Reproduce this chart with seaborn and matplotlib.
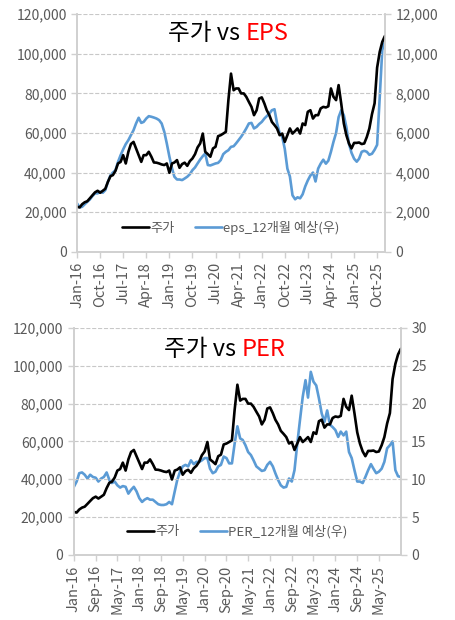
import matplotlib
matplotlib.use('Agg')

import seaborn as sns
import matplotlib.pyplot as plt
import matplotlib.dates as mdates
from matplotlib.ticker import FuncFormatter, MultipleLocator, FixedLocator
import pandas as pd

# 월별 데이터 (2016-01 ~ 2026-01)
dates = pd.date_range('2016-01-01', periods=121, freq='MS')

price = [
    22700, 22400, 24000, 25000, 25500, 27000, 28500, 30000, 30800, 29800, 30800, 31800,
    35300, 38200, 38700, 40900, 44600, 45400, 48800, 44600, 50500, 54400, 55500, 52200,
    48800, 45400, 48800, 48800, 50500, 48000, 45100, 45000, 44600, 44100, 43800, 44600,
    39900, 44600, 45100, 46300, 42400, 44300, 45000, 43400, 45800, 47100, 49300, 52700,
    54700, 59700, 50500, 49300, 48000, 52200, 53000, 58400, 58900, 59700, 60600, 76600,
    90000, 81600, 82500, 82500, 80000, 80000, 78300, 75700, 73200, 69000, 71500, 77400,
    78000, 74900, 71500, 69000, 65600, 64000, 62300, 58900, 59700, 55500, 58900, 62300,
    59700, 61000, 62300, 59700, 64800, 64000, 70700, 71500, 67300, 69000, 69000, 72400,
    73200, 72900, 73500, 82500, 78300, 76600, 84200, 74900, 64800, 58900, 54700, 52200,
    55000, 55000, 55200, 54400, 54700, 58000, 62300, 69500, 75000, 93000, 101000, 106000,
    109000,
]

eps = [
    2440, 2240, 2270, 2400, 2520, 2640, 2810, 2950, 2950, 3030, 2980, 3110,
    3530, 3870, 4000, 4120, 4540, 4880, 5170, 5440, 5640, 5890, 6140, 6480,
    6770, 6510, 6560, 6730, 6850, 6820, 6780, 6730, 6650, 6480, 6060, 5470,
    4800, 4210, 3790, 3650, 3650, 3620, 3700, 3790, 3920, 4120, 4260, 4460,
    4660, 4830, 4960, 4380, 4360, 4410, 4460, 4490, 4630, 4930, 5050, 5130,
    5300, 5330, 5470, 5640, 5810, 6010, 6230, 6480, 6510, 6230, 6310, 6450,
    6560, 6730, 6850, 6980, 7150, 7200, 6500, 6000, 5800, 5200, 4200, 3800,
    2850, 2650, 2750, 2700, 2900, 3300, 3600, 3850, 4000, 3550, 4200, 4450,
    4650, 4450, 4600, 5050, 5550, 6000, 6800, 7150, 6900, 6300, 5450, 5000,
    4700, 4550, 4700, 5050, 5100, 5050, 4900, 4950, 5150, 5400, 7800, 10200,
    10600,
]

per = [
    9.0, 9.7, 10.8, 10.9, 10.6, 10.1, 10.6, 10.3, 10.2, 9.7, 10.1, 10.3,
    10.9, 9.9, 9.5, 9.7, 9.2, 8.9, 9.1, 9.0, 8.1, 8.6, 9.0, 8.4,
    7.5, 7.0, 7.3, 7.5, 7.3, 7.3, 7.0, 6.7, 6.6, 6.6, 6.7, 7.0,
    6.7, 8.4, 9.9, 11.0, 11.7, 11.9, 11.7, 12.5, 12.0, 12.3, 12.3, 12.5,
    12.8, 12.8, 11.4, 10.8, 11.0, 11.7, 11.9, 13.0, 12.8, 12.1, 12.1, 14.7,
    17.0, 15.4, 15.2, 14.5, 13.6, 13.2, 12.5, 11.7, 11.4, 11.1, 11.2, 11.9,
    12.3, 11.7, 10.8, 9.9, 9.2, 8.9, 9.0, 10.1, 9.7, 11.2, 14.7, 17.8,
    20.9, 23.1, 20.8, 24.2, 22.9, 22.4, 20.7, 18.7, 17.6, 19.1, 17.2, 16.9,
    16.5, 15.6, 16.3, 15.8, 16.3, 13.6, 12.8, 11.2, 9.7, 9.7, 9.5, 10.3,
    11.2, 12.0, 11.4, 10.8, 11.0, 11.4, 12.3, 14.1, 14.5, 15.0, 11.2, 10.4,
    10.3,
]

# 눈금: 위 차트 9개월 간격, 아래 차트 8개월 간격
ticks_eps = dates[:118:9]
ticks_per = dates[:113:8]

df = pd.DataFrame({'date': dates, 'price': price, 'eps': eps, 'per': per})

BLACK = '#000000'
BLUE = '#5b9bd5'
GRID = '#c8c8c8'
SPINE = '#d0d0d0'
TXT = '#595959'

sns.set_theme(style='white')
plt.rcParams['font.family'] = ['Noto Sans CJK KR', 'DejaVu Sans']
plt.rcParams['axes.unicode_minus'] = False

fig = plt.figure(figsize=(4.56, 6.2), dpi=100)

comma = FuncFormatter(lambda v, p: f'{v:,.0f}')


def style_axes(ax, ax2, ticks):
    ax.set_xlim(dates[0], dates[-1])
    ax.set_ylim(0, 120000)
    ax.yaxis.set_major_locator(MultipleLocator(20000))
    ax.yaxis.set_major_formatter(comma)
    ax.xaxis.set_major_locator(FixedLocator(mdates.date2num(ticks)))
    ax.xaxis.set_major_formatter(mdates.DateFormatter('%b-%y'))
    ax.grid(axis='y', linestyle='--', color=GRID, linewidth=0.8)
    ax.grid(axis='x', visible=False)
    ax.spines['top'].set_visible(False)
    ax2.spines['top'].set_visible(False)
    for a in (ax, ax2):
        for side in ['left', 'right', 'bottom']:
            a.spines[side].set_color(SPINE)
            a.spines[side].set_linewidth(1.2)
    ax.tick_params(axis='x', rotation=90, labelsize=10.5, colors=TXT,
                   length=4, width=1, direction='out', bottom=True, color=SPINE)
    ax.tick_params(axis='y', labelsize=10, colors=TXT, length=4, width=1,
                   direction='out', left=True, color=SPINE)
    ax2.tick_params(axis='y', labelsize=10, colors=TXT, length=4, width=1,
                    direction='out', right=True, color=SPINE)
    ax.set_xlabel('')
    ax.set_ylabel('')
    ax2.set_ylabel('')


def add_legend(ax, axb, labels):
    handles = [ax.get_lines()[0], axb.get_lines()[0]]
    ax.legend(handles, labels, loc='lower center', bbox_to_anchor=(0.5, 0.02),
              ncol=2, frameon=False, fontsize=9.5, handlelength=2.0,
              columnspacing=1.6, handletextpad=0.1, labelcolor=TXT)


# ---- 주가 vs EPS ----
ax1 = fig.add_axes([0.169, 0.594, 0.675, 0.383])
ax1b = ax1.twinx()
sns.lineplot(data=df, x='date', y='price', ax=ax1, color=BLACK, linewidth=1.9)
sns.lineplot(data=df, x='date', y='eps', ax=ax1b, color=BLUE, linewidth=1.9)
ax1b.set_ylim(0, 12000)
ax1b.yaxis.set_major_locator(MultipleLocator(2000))
ax1b.yaxis.set_major_formatter(comma)
style_axes(ax1, ax1b, ticks_eps)
ax1.set_zorder(ax1b.get_zorder() + 1)
ax1.patch.set_visible(False)
add_legend(ax1, ax1b, ['주가', 'eps_12개월 예상(우)'])

fig.text(240 / 456, 1 - 34 / 620, '주가 vs', ha='right', va='center',
         fontsize=17, color='#000000')
fig.text(246 / 456, 1 - 34 / 620, 'EPS', ha='left', va='center',
         fontsize=17, color='#ff0000')

# ---- 주가 vs PER ----
ax2 = fig.add_axes([0.162, 0.105, 0.717, 0.366])
ax2b = ax2.twinx()
sns.lineplot(data=df, x='date', y='price', ax=ax2, color=BLACK, linewidth=1.9)
sns.lineplot(data=df, x='date', y='per', ax=ax2b, color=BLUE, linewidth=1.9)
ax2b.set_ylim(0, 30)
ax2b.yaxis.set_major_locator(MultipleLocator(5))
style_axes(ax2, ax2b, ticks_per)
ax2.set_zorder(ax2b.get_zorder() + 1)
ax2.patch.set_visible(False)
add_legend(ax2, ax2b, ['주가', 'PER_12개월 예상(우)'])

fig.text(236 / 456, 1 - 349 / 620, '주가 vs', ha='right', va='center',
         fontsize=17, color='#000000')
fig.text(242 / 456, 1 - 349 / 620, 'PER', ha='left', va='center',
         fontsize=17, color='#ff0000')

fig.savefig('out.png', dpi=100)
plt.close('all')
